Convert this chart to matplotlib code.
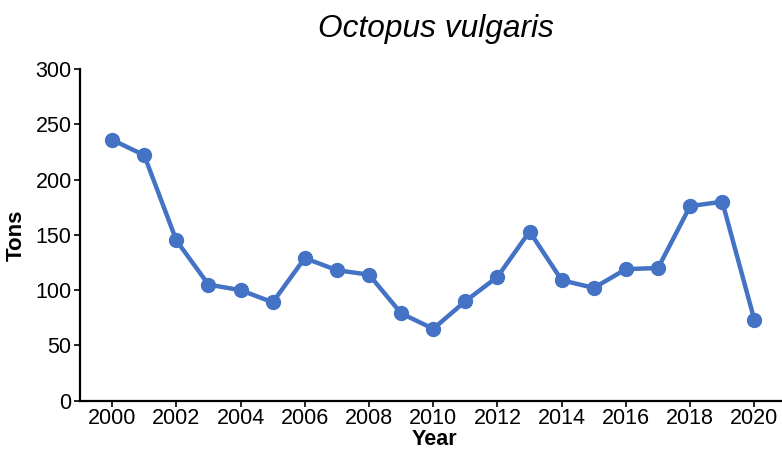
import matplotlib
matplotlib.use("Agg")
import matplotlib.pyplot as plt

years = list(range(2000, 2021))
tons = [236, 222, 145, 105, 100, 89, 129, 118, 114, 79, 65, 90, 112, 153,
        109, 102, 119, 120, 176, 180, 73]
xticks = list(range(2000, 2021, 2))
yticks = [0, 50, 100, 150, 200, 250, 300]

plt.rcParams['font.family'] = ['Liberation Sans', 'DejaVu Sans']

fig = plt.figure(figsize=(7.82, 4.51), dpi=100)
ax = fig.add_axes([0.1023, 0.1115, 0.8977, 0.7355])
ax.plot(years, tons, color='#4472C4', lw=3.2, marker='o', ms=10, solid_joinstyle='round')
ax.set_xlim(1999, 2020.86)
ax.set_ylim(0, 300)
ax.set_xticks(xticks)
ax.set_yticks(yticks)
ax.tick_params(labelsize=15.5, length=4, width=1.2, colors='black', pad=2)
ax.tick_params(axis='x', pad=1)
for s in ['top', 'right']:
    ax.spines[s].set_visible(False)
for s in ['left', 'bottom']:
    ax.spines[s].set_linewidth(1.6)
ax.set_ylabel('Tons', fontsize=16, fontweight='bold', labelpad=6)
fig.text(0.556, 0.003, 'Year', fontsize=15.5, fontweight='bold', ha='center', va='bottom')
fig.text(0.557, 0.935, 'Octopus vulgaris', fontsize=22.8, style='italic', ha='center', va='center')
fig.savefig('out.png', dpi=100)
